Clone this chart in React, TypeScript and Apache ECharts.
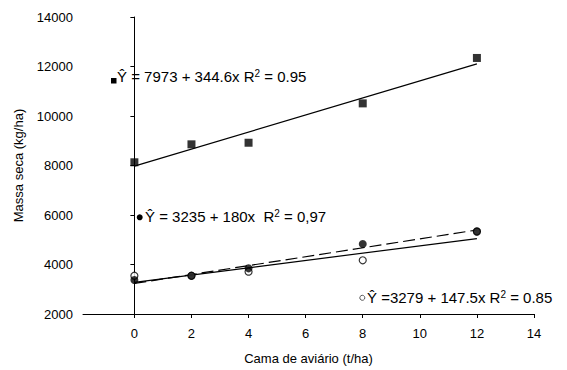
import React, { useEffect, useRef } from "react";
import * as echarts from "echarts";

const xTicks = [0, 2, 4, 6, 8, 10, 12, 14];
const doses = [0, 2, 4, 8, 12];
const squares = [8130, 8855, 8920, 10510, 12345];
const filledCircles = [3375, 3545, 3845, 4830, 5340];
const openCircles = [3545, 3545, 3710, 4170, 5330];
const lineX = [0, 12];
const squareFit = [7973, 12108];
const filledFit = [3235, 5395];
const openFit = [3279, 5049];

const FONT = "'Liberation Sans', Arial, sans-serif";

function eqText(x: number, y: number, pre: string, post: string) {
  return {
    type: "text",
    x,
    y,
    z: 100,
    style: {
      text: `{a|${pre}}{s|2}{a|${post}}`,
      verticalAlign: "middle",
      align: "left",
      rich: {
        a: { fontSize: 15, fontFamily: FONT, fill: "#000", verticalAlign: "top" },
        s: { fontSize: 10, fontFamily: FONT, fill: "#000", verticalAlign: "top" },
      },
    },
  };
}

export default function App() {
  const ref = useRef<HTMLDivElement>(null);
  useEffect(() => {
    document.body.style.margin = "0";
    const chart = echarts.init(ref.current!, null, { renderer: "svg" });
    const pair = (xs: number[], ys: number[]) => xs.map((x, i) => [x, ys[i]]);
    chart.setOption({
      animation: false,
      backgroundColor: "#fff",
      grid: { left: 83, right: 33, top: 17, bottom: 56, containLabel: false },
      xAxis: {
        type: "value",
        min: -1.8,
        max: 14,
        name: "Cama de aviário (t/ha)",
        nameLocation: "middle",
        nameGap: 38,
        nameTextStyle: { fontSize: 13, fontFamily: FONT, color: "#000" },
        axisLine: { show: true, onZero: false, lineStyle: { color: "#000", width: 1 } },
        axisTick: { show: true, length: 4, lineStyle: { color: "#000" }, customValues: xTicks },
        axisLabel: { fontSize: 13, fontFamily: FONT, color: "#000", margin: 13, customValues: xTicks, formatter: (v: number) => String(v) },
        splitLine: { show: false },
      },
      yAxis: {
        type: "value",
        min: 2000,
        max: 14000,
        interval: 2000,
        name: "Massa seca (kg/ha)",
        nameLocation: "middle",
        nameGap: 58,
        nameTextStyle: { fontSize: 13, fontFamily: FONT, color: "#000" },
        axisLine: { show: true, lineStyle: { color: "#000", width: 1 } },
        axisTick: { show: true, length: 4, lineStyle: { color: "#000" } },
        axisLabel: { fontSize: 13, fontFamily: FONT, color: "#000", margin: 10, formatter: (v: number) => String(v) },
        splitLine: { show: false },
      },
      series: [
        {
          type: "line",
          data: pair(lineX, squareFit),
          symbol: "none",
          lineStyle: { color: "#000", width: 1.2 },
          z: 1,
        },
        {
          type: "line",
          data: pair(lineX, filledFit),
          symbol: "none",
          lineStyle: { color: "#000", width: 1.2, type: [12, 5] },
          z: 1,
        },
        {
          type: "line",
          data: pair(lineX, openFit),
          symbol: "none",
          lineStyle: { color: "#000", width: 1.2 },
          z: 1,
        },
        {
          type: "scatter",
          data: pair(doses, squares),
          symbol: "rect",
          symbolSize: 8,
          itemStyle: { color: "#000" },
          z: 3,
        },
        {
          type: "scatter",
          data: pair(doses, openCircles),
          symbol: "circle",
          symbolSize: 7,
          itemStyle: { color: "#fff", borderColor: "#000", borderWidth: 1.2 },
          z: 2,
        },
        {
          type: "scatter",
          data: pair(doses, filledCircles),
          symbol: "circle",
          symbolSize: 8,
          itemStyle: { color: "#000" },
          z: 3,
        },
      ],
      graphic: [
        { type: "rect", shape: { x: 111, y: 78, width: 5.5, height: 5.5 }, style: { fill: "#000" }, z: 100 },
        eqText(117, 76, "Ŷ = 7973 + 344.6x R", " = 0.95"),
        { type: "circle", shape: { cx: 139.7, cy: 217.3, r: 3 }, style: { fill: "#000" }, z: 100 },
        eqText(145, 216, "Ŷ = 3235 + 180x  R", " = 0,97"),
        { type: "circle", shape: { cx: 362.3, cy: 297.8, r: 2.5 }, style: { fill: "#fff", stroke: "#555", lineWidth: 1 }, z: 100 },
        eqText(367, 297, "Ŷ =3279 + 147.5x R", " = 0.85"),
      ],
    });
    return () => chart.dispose();
  }, []);
  return <div ref={ref} style={{ width: 567, height: 370 }} />;
}
